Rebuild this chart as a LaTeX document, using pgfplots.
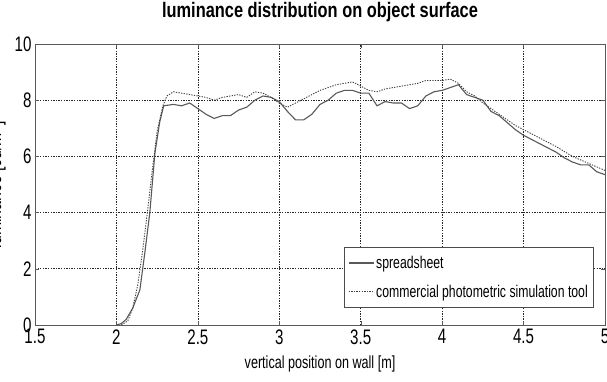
\documentclass[border=0pt]{standalone}
\usepackage{pgfplots}
\pgfplotsset{compat=1.18}
\usepackage{fontspec}
\setmainfont{Liberation Sans}[FakeStretch=0.72]
\newfontfamily\titlefont{Liberation Sans}[FakeStretch=0.78]
\begin{document}
\begin{tikzpicture}
\path[use as bounding box] (-35pt,-57pt) rectangle (572pt,325pt);
\begin{axis}[name=ax, at={(0pt,0pt)}, anchor=south west, scale only axis, width=570pt, height=281pt,
  xmin=1.5, xmax=5, ymin=0, ymax=10,
  xtick={1.5,2,2.5,3,3.5,4,4.5,5}, ytick={0,2,4,6,8,10},
  grid=major,
  grid style={black!85, dash pattern=on 1.3pt off 1.3pt, line width=0.6pt},
  axis line style={black!65, line width=0.9pt},
  tick style={black!65}, major tick length=4pt,
  /pgf/number format/assume math mode=true,
  tick label style={font=\fontsize{21}{23}\selectfont},
  xticklabel style={yshift=-1pt},
  title={\titlefont\bfseries luminance distribution on object surface},
  title style={font=\fontsize{21}{23}\selectfont, at={(0.5,1)}, anchor=base, yshift=20pt},
  xlabel={vertical position on wall [m]},
  xlabel style={font=\fontsize{17.5}{19}\selectfont, yshift=-5pt},
  ylabel={luminance [cd/m$^2$]},
  ylabel style={font=\fontsize{22}{24}\selectfont, yshift=2pt},
  legend cell align=left,
  legend style={at={(0.981,0.06)}, anchor=south east, draw=black!70, line width=0.8pt,
    font=\fontsize{17}{19}\selectfont, inner xsep=4pt, inner ysep=7pt, row sep=11pt},
  legend image code/.code={\draw[#1] (0pt,0pt) -- (25pt,0pt);},
]
\addplot[black!65, line width=1.1pt] coordinates {
(2.0,0) (2.03,0.05) (2.06,0.2) (2.1,0.6) (2.144,1.25) (2.175,2.6) (2.205,4.0) (2.236,6.1) (2.265,7.2) (2.29,7.8)
(2.35,7.85) (2.4,7.8) (2.45,7.9) (2.5,7.7) (2.55,7.5) (2.6,7.35) (2.65,7.45) (2.7,7.45) (2.75,7.65) (2.8,7.75)
(2.85,8.0) (2.9,8.15) (2.95,8.1) (3.0,7.95) (3.05,7.6) (3.1,7.3) (3.15,7.3) (3.2,7.5) (3.25,7.85) (3.3,8.0)
(3.35,8.25) (3.4,8.35) (3.45,8.35) (3.5,8.25) (3.55,8.25) (3.6,7.8) (3.65,7.95) (3.7,7.9) (3.75,7.9) (3.8,7.7)
(3.85,7.8) (3.9,8.15) (3.95,8.3) (4.0,8.35) (4.05,8.45) (4.1,8.55) (4.15,8.2) (4.2,8.1) (4.25,8.0) (4.3,7.6)
(4.35,7.45) (4.4,7.2) (4.45,6.95) (4.5,6.75) (4.6,6.45) (4.7,6.15) (4.75,5.95) (4.8,5.8) (4.85,5.7) (4.9,5.7)
(4.95,5.45) (5.0,5.35)
};
\addlegendentry{spreadsheet}
\addplot[black!75, line width=0.9pt, dash pattern=on 1.3pt off 1.3pt] coordinates {
(2.03,0) (2.07,0.15) (2.1,0.6) (2.13,1.4) (2.16,2.6) (2.19,4.0) (2.22,5.5) (2.25,6.9) (2.285,7.8) (2.31,8.15)
(2.35,8.3) (2.4,8.25) (2.45,8.2) (2.5,8.15) (2.55,8.1) (2.6,8.0) (2.65,8.1) (2.7,8.15) (2.75,8.2) (2.8,8.1)
(2.85,8.3) (2.9,8.25) (2.95,8.1) (3.0,7.9) (3.05,7.75) (3.1,7.9) (3.15,8.05) (3.2,8.2) (3.25,8.35) (3.3,8.45)
(3.35,8.55) (3.4,8.6) (3.45,8.65) (3.5,8.5) (3.55,8.35) (3.6,8.3) (3.65,8.4) (3.7,8.45) (3.75,8.5) (3.8,8.55)
(3.85,8.6) (3.9,8.7) (3.95,8.7) (4.0,8.7) (4.05,8.75) (4.1,8.6) (4.15,8.3) (4.2,8.15) (4.25,7.9) (4.3,7.7)
(4.35,7.5) (4.4,7.3) (4.45,7.1) (4.5,6.95) (4.6,6.65) (4.7,6.35) (4.8,6.0) (4.9,5.75) (5.0,5.5)
};
\addlegendentry{commercial photometric simulation tool}
\end{axis}
\end{tikzpicture}
\end{document}
